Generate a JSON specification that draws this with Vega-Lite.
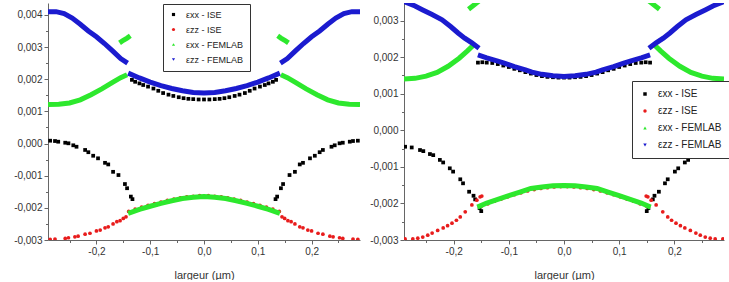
{
  "$schema": "https://vega.github.io/schema/vega-lite/v6.json",
  "padding": {"left": 4, "top": 3, "right": 0, "bottom": 0},
  "spacing": 0,
  "config": {
    "view": {"stroke": null},
    "font": "Liberation Sans",
    "axis": {"labelFont": "Liberation Sans", "labelFontSize": 10, "labelColor": "#333", "titleFont": "Liberation Sans", "titleFontSize": 11, "titleFontWeight": "normal", "titleColor": "#333", "domainColor": "#666", "tickColor": "#666", "grid": false, "labelPadding": 2, "labelFlush": false, "labelOverlap": false},
    "legend": {"labelFont": "Liberation Sans", "labelColor": "#222"}
  },
  "resolve": {"scale": {"color": "independent", "shape": "independent", "x": "independent", "y": "independent"}, "legend": {"color": "independent", "shape": "independent"}},
  "hconcat": [
    {
      "width": 312, "height": 237,
      "data": {"values": [
        {"s":"εxx - ISE","x":-0.286,"y":0.000088},{"s":"εxx - ISE","x":-0.277,"y":0.000078},{"s":"εxx - ISE","x":-0.271,"y":0.000057},{"s":"εxx - ISE","x":-0.258,"y":0.000025},{"s":"εxx - ISE","x":-0.252,"y":0.000007},{"s":"εxx - ISE","x":-0.243,"y":-0.000055},{"s":"εxx - ISE","x":-0.237,"y":-0.0001},{"s":"εxx - ISE","x":-0.221,"y":-0.0002},{"s":"εxx - ISE","x":-0.215,"y":-0.00027},{"s":"εxx - ISE","x":-0.206,"y":-0.00038},{"s":"εxx - ISE","x":-0.197,"y":-0.00046},{"s":"εxx - ISE","x":-0.184,"y":-0.0006},{"s":"εxx - ISE","x":-0.178,"y":-0.00065},{"s":"εxx - ISE","x":-0.169,"y":-0.00088},{"s":"εxx - ISE","x":-0.159,"y":-0.00098},{"s":"εxx - ISE","x":-0.147,"y":-0.00126},{"s":"εxx - ISE","x":-0.143,"y":-0.00139},{"s":"εxx - ISE","x":-0.136,"y":-0.00165},{"s":"εxx - ISE","x":-0.133,"y":-0.00173},
        {"s":"εxx - ISE","x":0.286,"y":0.000088},{"s":"εxx - ISE","x":0.277,"y":0.000078},{"s":"εxx - ISE","x":0.271,"y":0.000057},{"s":"εxx - ISE","x":0.258,"y":0.000025},{"s":"εxx - ISE","x":0.252,"y":0.000007},{"s":"εxx - ISE","x":0.243,"y":-0.000055},{"s":"εxx - ISE","x":0.237,"y":-0.0001},{"s":"εxx - ISE","x":0.221,"y":-0.0002},{"s":"εxx - ISE","x":0.215,"y":-0.00027},{"s":"εxx - ISE","x":0.206,"y":-0.00038},{"s":"εxx - ISE","x":0.197,"y":-0.00046},{"s":"εxx - ISE","x":0.184,"y":-0.0006},{"s":"εxx - ISE","x":0.178,"y":-0.00065},{"s":"εxx - ISE","x":0.169,"y":-0.00088},{"s":"εxx - ISE","x":0.159,"y":-0.00098},{"s":"εxx - ISE","x":0.147,"y":-0.00126},{"s":"εxx - ISE","x":0.143,"y":-0.00139},{"s":"εxx - ISE","x":0.136,"y":-0.00165},{"s":"εxx - ISE","x":0.133,"y":-0.00173},
        {"s":"εxx - ISE","x":-0.134,"y":0.00198},{"s":"εxx - ISE","x":-0.128,"y":0.00192},{"s":"εxx - ISE","x":-0.12,"y":0.00187},{"s":"εxx - ISE","x":-0.113,"y":0.00182},{"s":"εxx - ISE","x":-0.104,"y":0.00177},{"s":"εxx - ISE","x":-0.094,"y":0.00171},{"s":"εxx - ISE","x":-0.085,"y":0.00164},{"s":"εxx - ISE","x":-0.076,"y":0.00157},{"s":"εxx - ISE","x":-0.066,"y":0.00152},{"s":"εxx - ISE","x":-0.057,"y":0.00148},{"s":"εxx - ISE","x":-0.047,"y":0.00144},{"s":"εxx - ISE","x":-0.038,"y":0.00141},{"s":"εxx - ISE","x":-0.029,"y":0.00139},{"s":"εxx - ISE","x":-0.02,"y":0.00138},{"s":"εxx - ISE","x":-0.01,"y":0.00137},{"s":"εxx - ISE","x":0,"y":0.00137},
        {"s":"εxx - ISE","x":0.134,"y":0.00198},{"s":"εxx - ISE","x":0.128,"y":0.00192},{"s":"εxx - ISE","x":0.12,"y":0.00187},{"s":"εxx - ISE","x":0.113,"y":0.00182},{"s":"εxx - ISE","x":0.104,"y":0.00177},{"s":"εxx - ISE","x":0.094,"y":0.00171},{"s":"εxx - ISE","x":0.085,"y":0.00164},{"s":"εxx - ISE","x":0.076,"y":0.00157},{"s":"εxx - ISE","x":0.066,"y":0.00152},{"s":"εxx - ISE","x":0.057,"y":0.00148},{"s":"εxx - ISE","x":0.047,"y":0.00144},{"s":"εxx - ISE","x":0.038,"y":0.00141},{"s":"εxx - ISE","x":0.029,"y":0.00139},{"s":"εxx - ISE","x":0.02,"y":0.00138},{"s":"εxx - ISE","x":0.01,"y":0.00137},
        {"s":"εzz - ISE","x":-0.286,"y":-0.00298},{"s":"εzz - ISE","x":-0.277,"y":-0.00297},{"s":"εzz - ISE","x":-0.258,"y":-0.00295},{"s":"εzz - ISE","x":-0.252,"y":-0.00293},{"s":"εzz - ISE","x":-0.24,"y":-0.0029},{"s":"εzz - ISE","x":-0.234,"y":-0.00288},{"s":"εzz - ISE","x":-0.221,"y":-0.00282},{"s":"εzz - ISE","x":-0.212,"y":-0.00279},{"s":"εzz - ISE","x":-0.2,"y":-0.00272},{"s":"εzz - ISE","x":-0.193,"y":-0.00269},{"s":"εzz - ISE","x":-0.184,"y":-0.00262},{"s":"εzz - ISE","x":-0.178,"y":-0.00259},{"s":"εzz - ISE","x":-0.169,"y":-0.0025},{"s":"εzz - ISE","x":-0.162,"y":-0.00243},{"s":"εzz - ISE","x":-0.156,"y":-0.0024},{"s":"εzz - ISE","x":-0.15,"y":-0.00233},{"s":"εzz - ISE","x":-0.145,"y":-0.00228},
        {"s":"εzz - ISE","x":0.286,"y":-0.00298},{"s":"εzz - ISE","x":0.277,"y":-0.00297},{"s":"εzz - ISE","x":0.258,"y":-0.00295},{"s":"εzz - ISE","x":0.252,"y":-0.00293},{"s":"εzz - ISE","x":0.24,"y":-0.0029},{"s":"εzz - ISE","x":0.234,"y":-0.00288},{"s":"εzz - ISE","x":0.221,"y":-0.00282},{"s":"εzz - ISE","x":0.212,"y":-0.00279},{"s":"εzz - ISE","x":0.2,"y":-0.00272},{"s":"εzz - ISE","x":0.193,"y":-0.00269},{"s":"εzz - ISE","x":0.184,"y":-0.00262},{"s":"εzz - ISE","x":0.178,"y":-0.00259},{"s":"εzz - ISE","x":0.169,"y":-0.0025},{"s":"εzz - ISE","x":0.162,"y":-0.00243},{"s":"εzz - ISE","x":0.156,"y":-0.0024},{"s":"εzz - ISE","x":0.15,"y":-0.00233},{"s":"εzz - ISE","x":0.145,"y":-0.00228},
        {"s":"εzz - ISE","x":-0.14,"y":-0.00211},{"s":"εzz - ISE","x":-0.128,"y":-0.00204},{"s":"εzz - ISE","x":-0.116,"y":-0.00198},{"s":"εzz - ISE","x":-0.104,"y":-0.00192},{"s":"εzz - ISE","x":-0.092,"y":-0.00187},{"s":"εzz - ISE","x":-0.08,"y":-0.00182},{"s":"εzz - ISE","x":-0.068,"y":-0.00177},{"s":"εzz - ISE","x":-0.056,"y":-0.00173},{"s":"εzz - ISE","x":-0.044,"y":-0.00169},{"s":"εzz - ISE","x":-0.032,"y":-0.00166},{"s":"εzz - ISE","x":-0.02,"y":-0.00164},{"s":"εzz - ISE","x":-0.008,"y":-0.00162},
        {"s":"εzz - ISE","x":0.14,"y":-0.00211},{"s":"εzz - ISE","x":0.128,"y":-0.00204},{"s":"εzz - ISE","x":0.116,"y":-0.00198},{"s":"εzz - ISE","x":0.104,"y":-0.00192},{"s":"εzz - ISE","x":0.092,"y":-0.00187},{"s":"εzz - ISE","x":0.08,"y":-0.00182},{"s":"εzz - ISE","x":0.068,"y":-0.00177},{"s":"εzz - ISE","x":0.056,"y":-0.00173},{"s":"εzz - ISE","x":0.044,"y":-0.00169},{"s":"εzz - ISE","x":0.032,"y":-0.00166},{"s":"εzz - ISE","x":0.02,"y":-0.00164},{"s":"εzz - ISE","x":0.008,"y":-0.00162},
        {"s":"εxx - FEMLAB","g":"oL","x":-0.29,"y":0.00121},{"s":"εxx - FEMLAB","g":"oL","x":-0.27,"y":0.00122},{"s":"εxx - FEMLAB","g":"oL","x":-0.25,"y":0.00126},{"s":"εxx - FEMLAB","g":"oL","x":-0.23,"y":0.00136},{"s":"εxx - FEMLAB","g":"oL","x":-0.21,"y":0.00152},{"s":"εxx - FEMLAB","g":"oL","x":-0.19,"y":0.0017},{"s":"εxx - FEMLAB","g":"oL","x":-0.17,"y":0.0019},{"s":"εxx - FEMLAB","g":"oL","x":-0.155,"y":0.00205},{"s":"εxx - FEMLAB","g":"oL","x":-0.143,"y":0.00214},
        {"s":"εxx - FEMLAB","g":"oR","x":0.29,"y":0.00121},{"s":"εxx - FEMLAB","g":"oR","x":0.27,"y":0.00122},{"s":"εxx - FEMLAB","g":"oR","x":0.25,"y":0.00126},{"s":"εxx - FEMLAB","g":"oR","x":0.23,"y":0.00136},{"s":"εxx - FEMLAB","g":"oR","x":0.21,"y":0.00152},{"s":"εxx - FEMLAB","g":"oR","x":0.19,"y":0.0017},{"s":"εxx - FEMLAB","g":"oR","x":0.17,"y":0.0019},{"s":"εxx - FEMLAB","g":"oR","x":0.155,"y":0.00205},{"s":"εxx - FEMLAB","g":"oR","x":0.143,"y":0.00214},
        {"s":"εxx - FEMLAB","g":"sL","x":-0.157,"y":0.00313},{"s":"εxx - FEMLAB","g":"sL","x":-0.15,"y":0.00321},{"s":"εxx - FEMLAB","g":"sL","x":-0.143,"y":0.00328},{"s":"εxx - FEMLAB","g":"sL","x":-0.137,"y":0.00335},
        {"s":"εxx - FEMLAB","g":"sR","x":0.157,"y":0.00313},{"s":"εxx - FEMLAB","g":"sR","x":0.15,"y":0.00321},{"s":"εxx - FEMLAB","g":"sR","x":0.143,"y":0.00328},{"s":"εxx - FEMLAB","g":"sR","x":0.137,"y":0.00335},
        {"s":"εxx - FEMLAB","g":"i","x":-0.141,"y":-0.00217},{"s":"εxx - FEMLAB","g":"i","x":-0.12,"y":-0.00205},{"s":"εxx - FEMLAB","g":"i","x":-0.1,"y":-0.00195},{"s":"εxx - FEMLAB","g":"i","x":-0.08,"y":-0.00186},{"s":"εxx - FEMLAB","g":"i","x":-0.06,"y":-0.00178},{"s":"εxx - FEMLAB","g":"i","x":-0.04,"y":-0.00171},{"s":"εxx - FEMLAB","g":"i","x":-0.02,"y":-0.00167},{"s":"εxx - FEMLAB","g":"i","x":0,"y":-0.00165},{"s":"εxx - FEMLAB","g":"i","x":0.02,"y":-0.00167},{"s":"εxx - FEMLAB","g":"i","x":0.04,"y":-0.00171},{"s":"εxx - FEMLAB","g":"i","x":0.06,"y":-0.00178},{"s":"εxx - FEMLAB","g":"i","x":0.08,"y":-0.00186},{"s":"εxx - FEMLAB","g":"i","x":0.1,"y":-0.00195},{"s":"εxx - FEMLAB","g":"i","x":0.12,"y":-0.00205},{"s":"εxx - FEMLAB","g":"i","x":0.141,"y":-0.00217},
        {"s":"εzz - FEMLAB","g":"oL","x":-0.29,"y":0.0041},{"s":"εzz - FEMLAB","g":"oL","x":-0.275,"y":0.0041},{"s":"εzz - FEMLAB","g":"oL","x":-0.26,"y":0.00404},{"s":"εzz - FEMLAB","g":"oL","x":-0.245,"y":0.0039},{"s":"εzz - FEMLAB","g":"oL","x":-0.23,"y":0.00371},{"s":"εzz - FEMLAB","g":"oL","x":-0.215,"y":0.0035},{"s":"εzz - FEMLAB","g":"oL","x":-0.2,"y":0.00332},{"s":"εzz - FEMLAB","g":"oL","x":-0.185,"y":0.00311},{"s":"εzz - FEMLAB","g":"oL","x":-0.17,"y":0.00288},{"s":"εzz - FEMLAB","g":"oL","x":-0.155,"y":0.00264},{"s":"εzz - FEMLAB","g":"oL","x":-0.142,"y":0.0025},
        {"s":"εzz - FEMLAB","g":"oR","x":0.29,"y":0.0041},{"s":"εzz - FEMLAB","g":"oR","x":0.275,"y":0.0041},{"s":"εzz - FEMLAB","g":"oR","x":0.26,"y":0.00404},{"s":"εzz - FEMLAB","g":"oR","x":0.245,"y":0.0039},{"s":"εzz - FEMLAB","g":"oR","x":0.23,"y":0.00371},{"s":"εzz - FEMLAB","g":"oR","x":0.215,"y":0.0035},{"s":"εzz - FEMLAB","g":"oR","x":0.2,"y":0.00332},{"s":"εzz - FEMLAB","g":"oR","x":0.185,"y":0.00311},{"s":"εzz - FEMLAB","g":"oR","x":0.17,"y":0.00288},{"s":"εzz - FEMLAB","g":"oR","x":0.155,"y":0.00264},{"s":"εzz - FEMLAB","g":"oR","x":0.142,"y":0.0025},
        {"s":"εzz - FEMLAB","g":"i","x":-0.141,"y":0.00219},{"s":"εzz - FEMLAB","g":"i","x":-0.12,"y":0.00204},{"s":"εzz - FEMLAB","g":"i","x":-0.1,"y":0.00191},{"s":"εzz - FEMLAB","g":"i","x":-0.08,"y":0.0018},{"s":"εzz - FEMLAB","g":"i","x":-0.06,"y":0.00171},{"s":"εzz - FEMLAB","g":"i","x":-0.04,"y":0.00164},{"s":"εzz - FEMLAB","g":"i","x":-0.02,"y":0.00159},{"s":"εzz - FEMLAB","g":"i","x":0,"y":0.00157},{"s":"εzz - FEMLAB","g":"i","x":0.02,"y":0.00159},{"s":"εzz - FEMLAB","g":"i","x":0.04,"y":0.00164},{"s":"εzz - FEMLAB","g":"i","x":0.06,"y":0.00171},{"s":"εzz - FEMLAB","g":"i","x":0.08,"y":0.0018},{"s":"εzz - FEMLAB","g":"i","x":0.1,"y":0.00191},{"s":"εzz - FEMLAB","g":"i","x":0.12,"y":0.00204},{"s":"εzz - FEMLAB","g":"i","x":0.141,"y":0.00219}
      ]},
      "encoding": {
        "x": {"field": "x", "type": "quantitative", "scale": {"domain": [-0.29, 0.29], "nice": false, "zero": false},
              "axis": {"title": "largeur (µm)", "titlePadding": 13, "values": [-0.25,-0.2,-0.15,-0.1,-0.05,0,0.05,0.1,0.15,0.2,0.25],
                       "labelExpr": "abs(datum.value*10 - round(datum.value*10)) < 0.01 ? (datum.value < -0.001 ? '-' : '') + replace(format(abs(datum.value), '.1f'), '.', ',') : ''",
                       "tickSize": {"condition": {"test": "abs(datum.value*10 - round(datum.value*10)) < 0.01", "value": 4}, "value": 2.5}}},
        "y": {"field": "y", "type": "quantitative", "scale": {"domain": [-0.003, 0.00437], "nice": false, "zero": false},
              "axis": {"title": null, "minExtent": 44, "maxExtent": 44, "values": [-0.003,-0.0025,-0.002,-0.0015,-0.001,-0.0005,0,0.0005,0.001,0.0015,0.002,0.0025,0.003,0.0035,0.004],
                       "labelExpr": "abs(datum.value*1000 - round(datum.value*1000)) < 0.01 ? (datum.value < -0.00001 ? '-' : '') + replace(format(abs(datum.value), '.3f'), '.', ',') : ''",
                       "tickSize": {"condition": {"test": "abs(datum.value*1000 - round(datum.value*1000)) < 0.01", "value": 4}, "value": 2.5}}}
      },
      "layer": [
        {"transform": [{"filter": "indexof(datum.s, 'ISE') >= 0"}],
         "mark": {"type": "point", "filled": true, "size": 14, "opacity": 1, "clip": true, "strokeWidth": 0},
         "encoding": {
           "color": {"field": "s", "type": "nominal", "scale": {"domain": ["εxx - ISE","εzz - ISE","εxx - FEMLAB","εzz - FEMLAB"], "range": ["#000000","#e81c1c","#2de82d","#1b1bcf"]},
                     "legend": {"title": null, "orient": "none", "legendX": 115, "legendY": 1, "fillColor": "#ffffff", "strokeColor": "#333333", "padding": 6, "rowPadding": 5, "labelFontSize": 9, "symbolSize": 10, "labelOffset": 8, "symbolStrokeWidth": 0}},
           "shape": {"field": "s", "type": "nominal", "scale": {"domain": ["εxx - ISE","εzz - ISE","εxx - FEMLAB","εzz - FEMLAB"], "range": ["square","circle","triangle-up","triangle-down"]},
                     "legend": {"title": null, "orient": "none", "legendX": 115, "legendY": 1, "fillColor": "#ffffff", "strokeColor": "#333333", "padding": 6, "rowPadding": 5, "labelFontSize": 9, "symbolSize": 10, "labelOffset": 8, "symbolStrokeWidth": 0}}
         }},
        {"transform": [{"filter": "datum.s == 'εxx - FEMLAB'"}],
         "mark": {"type": "line", "color": "#2de82d", "strokeWidth": 5, "clip": true},
         "encoding": {"detail": {"field": "g", "type": "nominal"}}},
        {"transform": [{"filter": "datum.s == 'εzz - FEMLAB'"}],
         "mark": {"type": "line", "color": "#1b1bcf", "strokeWidth": 5, "clip": true},
         "encoding": {"detail": {"field": "g", "type": "nominal"}}}
      ]
    },
    {
      "width": 320, "height": 237,
      "data": {"values": [
        {"s":"εxx - ISE","x":-0.288,"y":-0.00045},{"s":"εxx - ISE","x":-0.276,"y":-0.00047},{"s":"εxx - ISE","x":-0.261,"y":-0.00054},{"s":"εxx - ISE","x":-0.255,"y":-0.00057},{"s":"εxx - ISE","x":-0.243,"y":-0.00065},{"s":"εxx - ISE","x":-0.237,"y":-0.00068},{"s":"εxx - ISE","x":-0.225,"y":-0.00081},{"s":"εxx - ISE","x":-0.219,"y":-0.00088},{"s":"εxx - ISE","x":-0.207,"y":-0.00104},{"s":"εxx - ISE","x":-0.201,"y":-0.00113},{"s":"εxx - ISE","x":-0.188,"y":-0.00134},{"s":"εxx - ISE","x":-0.183,"y":-0.00145},{"s":"εxx - ISE","x":-0.172,"y":-0.00168},{"s":"εxx - ISE","x":-0.164,"y":-0.00179},{"s":"εxx - ISE","x":-0.161,"y":-0.00189},{"s":"εxx - ISE","x":-0.153,"y":-0.00213},{"s":"εxx - ISE","x":-0.15,"y":-0.00221},
        {"s":"εxx - ISE","x":0.288,"y":-0.00045},{"s":"εxx - ISE","x":0.276,"y":-0.00047},{"s":"εxx - ISE","x":0.261,"y":-0.00054},{"s":"εxx - ISE","x":0.255,"y":-0.00057},{"s":"εxx - ISE","x":0.243,"y":-0.00065},{"s":"εxx - ISE","x":0.237,"y":-0.00068},{"s":"εxx - ISE","x":0.225,"y":-0.00081},{"s":"εxx - ISE","x":0.219,"y":-0.00088},{"s":"εxx - ISE","x":0.207,"y":-0.00104},{"s":"εxx - ISE","x":0.201,"y":-0.00113},{"s":"εxx - ISE","x":0.188,"y":-0.00134},{"s":"εxx - ISE","x":0.183,"y":-0.00145},{"s":"εxx - ISE","x":0.172,"y":-0.00168},{"s":"εxx - ISE","x":0.164,"y":-0.00179},{"s":"εxx - ISE","x":0.161,"y":-0.00189},{"s":"εxx - ISE","x":0.153,"y":-0.00213},{"s":"εxx - ISE","x":0.15,"y":-0.00221},
        {"s":"εxx - ISE","x":-0.156,"y":0.00185},{"s":"εxx - ISE","x":-0.148,"y":0.00186},{"s":"εxx - ISE","x":-0.14,"y":0.00185},{"s":"εxx - ISE","x":-0.13,"y":0.00184},{"s":"εxx - ISE","x":-0.12,"y":0.00181},{"s":"εxx - ISE","x":-0.11,"y":0.00177},{"s":"εxx - ISE","x":-0.1,"y":0.00173},{"s":"εxx - ISE","x":-0.09,"y":0.00168},{"s":"εxx - ISE","x":-0.08,"y":0.00164},{"s":"εxx - ISE","x":-0.07,"y":0.00159},{"s":"εxx - ISE","x":-0.06,"y":0.00155},{"s":"εxx - ISE","x":-0.05,"y":0.00151},{"s":"εxx - ISE","x":-0.04,"y":0.00148},{"s":"εxx - ISE","x":-0.03,"y":0.00146},{"s":"εxx - ISE","x":-0.02,"y":0.00145},{"s":"εxx - ISE","x":-0.01,"y":0.00144},{"s":"εxx - ISE","x":0,"y":0.00144},
        {"s":"εxx - ISE","x":0.156,"y":0.00185},{"s":"εxx - ISE","x":0.148,"y":0.00186},{"s":"εxx - ISE","x":0.14,"y":0.00185},{"s":"εxx - ISE","x":0.13,"y":0.00184},{"s":"εxx - ISE","x":0.12,"y":0.00181},{"s":"εxx - ISE","x":0.11,"y":0.00177},{"s":"εxx - ISE","x":0.1,"y":0.00173},{"s":"εxx - ISE","x":0.09,"y":0.00168},{"s":"εxx - ISE","x":0.08,"y":0.00164},{"s":"εxx - ISE","x":0.07,"y":0.00159},{"s":"εxx - ISE","x":0.06,"y":0.00155},{"s":"εxx - ISE","x":0.05,"y":0.00151},{"s":"εxx - ISE","x":0.04,"y":0.00148},{"s":"εxx - ISE","x":0.03,"y":0.00146},{"s":"εxx - ISE","x":0.02,"y":0.00145},{"s":"εxx - ISE","x":0.01,"y":0.00144},
        {"s":"εzz - ISE","x":-0.288,"y":-0.00297},{"s":"εzz - ISE","x":-0.274,"y":-0.00297},{"s":"εzz - ISE","x":-0.265,"y":-0.00295},{"s":"εzz - ISE","x":-0.256,"y":-0.00292},{"s":"εzz - ISE","x":-0.247,"y":-0.00287},{"s":"εzz - ISE","x":-0.239,"y":-0.00281},{"s":"εzz - ISE","x":-0.229,"y":-0.00274},{"s":"εzz - ISE","x":-0.219,"y":-0.00267},{"s":"εzz - ISE","x":-0.211,"y":-0.00261},{"s":"εzz - ISE","x":-0.203,"y":-0.00254},{"s":"εzz - ISE","x":-0.195,"y":-0.00246},{"s":"εzz - ISE","x":-0.188,"y":-0.00237},{"s":"εzz - ISE","x":-0.179,"y":-0.00223},{"s":"εzz - ISE","x":-0.167,"y":-0.00204},{"s":"εzz - ISE","x":-0.158,"y":-0.00191},{"s":"εzz - ISE","x":-0.152,"y":-0.00182},{"s":"εzz - ISE","x":-0.149,"y":-0.0018},
        {"s":"εzz - ISE","x":0.288,"y":-0.00297},{"s":"εzz - ISE","x":0.274,"y":-0.00297},{"s":"εzz - ISE","x":0.265,"y":-0.00295},{"s":"εzz - ISE","x":0.256,"y":-0.00292},{"s":"εzz - ISE","x":0.247,"y":-0.00287},{"s":"εzz - ISE","x":0.239,"y":-0.00281},{"s":"εzz - ISE","x":0.229,"y":-0.00274},{"s":"εzz - ISE","x":0.219,"y":-0.00267},{"s":"εzz - ISE","x":0.211,"y":-0.00261},{"s":"εzz - ISE","x":0.203,"y":-0.00254},{"s":"εzz - ISE","x":0.195,"y":-0.00246},{"s":"εzz - ISE","x":0.188,"y":-0.00237},{"s":"εzz - ISE","x":0.179,"y":-0.00223},{"s":"εzz - ISE","x":0.167,"y":-0.00204},{"s":"εzz - ISE","x":0.158,"y":-0.00191},{"s":"εzz - ISE","x":0.152,"y":-0.00182},{"s":"εzz - ISE","x":0.149,"y":-0.0018},
        {"s":"εzz - ISE","x":-0.15,"y":-0.00208},{"s":"εzz - ISE","x":-0.138,"y":-0.00201},{"s":"εzz - ISE","x":-0.126,"y":-0.00194},{"s":"εzz - ISE","x":-0.114,"y":-0.00188},{"s":"εzz - ISE","x":-0.102,"y":-0.00182},{"s":"εzz - ISE","x":-0.09,"y":-0.00176},{"s":"εzz - ISE","x":-0.078,"y":-0.00171},{"s":"εzz - ISE","x":-0.066,"y":-0.00166},{"s":"εzz - ISE","x":-0.054,"y":-0.00162},{"s":"εzz - ISE","x":-0.042,"y":-0.00159},{"s":"εzz - ISE","x":-0.03,"y":-0.00157},{"s":"εzz - ISE","x":-0.018,"y":-0.00155},{"s":"εzz - ISE","x":-0.006,"y":-0.00154},
        {"s":"εzz - ISE","x":0.15,"y":-0.00208},{"s":"εzz - ISE","x":0.138,"y":-0.00201},{"s":"εzz - ISE","x":0.126,"y":-0.00194},{"s":"εzz - ISE","x":0.114,"y":-0.00188},{"s":"εzz - ISE","x":0.102,"y":-0.00182},{"s":"εzz - ISE","x":0.09,"y":-0.00176},{"s":"εzz - ISE","x":0.078,"y":-0.00171},{"s":"εzz - ISE","x":0.066,"y":-0.00166},{"s":"εzz - ISE","x":0.054,"y":-0.00162},{"s":"εzz - ISE","x":0.042,"y":-0.00159},{"s":"εzz - ISE","x":0.03,"y":-0.00157},{"s":"εzz - ISE","x":0.018,"y":-0.00155},{"s":"εzz - ISE","x":0.006,"y":-0.00154},
        {"s":"εxx - FEMLAB","g":"oL","x":-0.29,"y":0.0014},{"s":"εxx - FEMLAB","g":"oL","x":-0.27,"y":0.00142},{"s":"εxx - FEMLAB","g":"oL","x":-0.25,"y":0.00148},{"s":"εxx - FEMLAB","g":"oL","x":-0.23,"y":0.00158},{"s":"εxx - FEMLAB","g":"oL","x":-0.21,"y":0.00175},{"s":"εxx - FEMLAB","g":"oL","x":-0.19,"y":0.00197},{"s":"εxx - FEMLAB","g":"oL","x":-0.175,"y":0.00217},{"s":"εxx - FEMLAB","g":"oL","x":-0.162,"y":0.00236},
        {"s":"εxx - FEMLAB","g":"oR","x":0.29,"y":0.0014},{"s":"εxx - FEMLAB","g":"oR","x":0.27,"y":0.00142},{"s":"εxx - FEMLAB","g":"oR","x":0.25,"y":0.00148},{"s":"εxx - FEMLAB","g":"oR","x":0.23,"y":0.00158},{"s":"εxx - FEMLAB","g":"oR","x":0.21,"y":0.00175},{"s":"εxx - FEMLAB","g":"oR","x":0.19,"y":0.00197},{"s":"εxx - FEMLAB","g":"oR","x":0.175,"y":0.00217},{"s":"εxx - FEMLAB","g":"oR","x":0.162,"y":0.00236},
        {"s":"εxx - FEMLAB","g":"sL","x":-0.173,"y":0.00331},{"s":"εxx - FEMLAB","g":"sL","x":-0.161,"y":0.00345},{"s":"εxx - FEMLAB","g":"sL","x":-0.152,"y":0.00356},
        {"s":"εxx - FEMLAB","g":"sR","x":0.173,"y":0.00331},{"s":"εxx - FEMLAB","g":"sR","x":0.161,"y":0.00345},{"s":"εxx - FEMLAB","g":"sR","x":0.152,"y":0.00356},
        {"s":"εxx - FEMLAB","g":"i","x":-0.157,"y":-0.0021},{"s":"εxx - FEMLAB","g":"i","x":-0.14,"y":-0.00199},{"s":"εxx - FEMLAB","g":"i","x":-0.12,"y":-0.00189},{"s":"εxx - FEMLAB","g":"i","x":-0.1,"y":-0.00179},{"s":"εxx - FEMLAB","g":"i","x":-0.08,"y":-0.00169},{"s":"εxx - FEMLAB","g":"i","x":-0.06,"y":-0.00159},{"s":"εxx - FEMLAB","g":"i","x":-0.04,"y":-0.00155},{"s":"εxx - FEMLAB","g":"i","x":-0.02,"y":-0.00152},{"s":"εxx - FEMLAB","g":"i","x":0,"y":-0.00151},{"s":"εxx - FEMLAB","g":"i","x":0.02,"y":-0.00152},{"s":"εxx - FEMLAB","g":"i","x":0.04,"y":-0.00155},{"s":"εxx - FEMLAB","g":"i","x":0.06,"y":-0.00159},{"s":"εxx - FEMLAB","g":"i","x":0.08,"y":-0.00169},{"s":"εxx - FEMLAB","g":"i","x":0.1,"y":-0.00179},{"s":"εxx - FEMLAB","g":"i","x":0.12,"y":-0.00189},{"s":"εxx - FEMLAB","g":"i","x":0.14,"y":-0.00199},{"s":"εxx - FEMLAB","g":"i","x":0.157,"y":-0.0021},
        {"s":"εzz - FEMLAB","g":"oL","x":-0.29,"y":0.00352},{"s":"εzz - FEMLAB","g":"oL","x":-0.27,"y":0.0034},{"s":"εzz - FEMLAB","g":"oL","x":-0.256,"y":0.00329},{"s":"εzz - FEMLAB","g":"oL","x":-0.24,"y":0.00317},{"s":"εzz - FEMLAB","g":"oL","x":-0.221,"y":0.00302},{"s":"εzz - FEMLAB","g":"oL","x":-0.205,"y":0.00283},{"s":"εzz - FEMLAB","g":"oL","x":-0.192,"y":0.00266},{"s":"εzz - FEMLAB","g":"oL","x":-0.18,"y":0.00252},{"s":"εzz - FEMLAB","g":"oL","x":-0.167,"y":0.00239},{"s":"εzz - FEMLAB","g":"oL","x":-0.154,"y":0.00224},
        {"s":"εzz - FEMLAB","g":"oR","x":0.29,"y":0.00352},{"s":"εzz - FEMLAB","g":"oR","x":0.27,"y":0.0034},{"s":"εzz - FEMLAB","g":"oR","x":0.256,"y":0.00329},{"s":"εzz - FEMLAB","g":"oR","x":0.24,"y":0.00317},{"s":"εzz - FEMLAB","g":"oR","x":0.221,"y":0.00302},{"s":"εzz - FEMLAB","g":"oR","x":0.205,"y":0.00283},{"s":"εzz - FEMLAB","g":"oR","x":0.192,"y":0.00266},{"s":"εzz - FEMLAB","g":"oR","x":0.18,"y":0.00252},{"s":"εzz - FEMLAB","g":"oR","x":0.167,"y":0.00239},{"s":"εzz - FEMLAB","g":"oR","x":0.154,"y":0.00224},
        {"s":"εzz - FEMLAB","g":"i","x":-0.156,"y":0.00206},{"s":"εzz - FEMLAB","g":"i","x":-0.14,"y":0.00198},{"s":"εzz - FEMLAB","g":"i","x":-0.12,"y":0.00189},{"s":"εzz - FEMLAB","g":"i","x":-0.107,"y":0.00183},{"s":"εzz - FEMLAB","g":"i","x":-0.09,"y":0.00174},{"s":"εzz - FEMLAB","g":"i","x":-0.07,"y":0.00165},{"s":"εzz - FEMLAB","g":"i","x":-0.058,"y":0.00159},{"s":"εzz - FEMLAB","g":"i","x":-0.04,"y":0.00153},{"s":"εzz - FEMLAB","g":"i","x":-0.02,"y":0.00149},{"s":"εzz - FEMLAB","g":"i","x":0,"y":0.00147},{"s":"εzz - FEMLAB","g":"i","x":0.02,"y":0.00149},{"s":"εzz - FEMLAB","g":"i","x":0.04,"y":0.00153},{"s":"εzz - FEMLAB","g":"i","x":0.058,"y":0.00159},{"s":"εzz - FEMLAB","g":"i","x":0.07,"y":0.00165},{"s":"εzz - FEMLAB","g":"i","x":0.09,"y":0.00174},{"s":"εzz - FEMLAB","g":"i","x":0.107,"y":0.00183},{"s":"εzz - FEMLAB","g":"i","x":0.12,"y":0.00189},{"s":"εzz - FEMLAB","g":"i","x":0.14,"y":0.00198},{"s":"εzz - FEMLAB","g":"i","x":0.156,"y":0.00206}
      ]},
      "encoding": {
        "x": {"field": "x", "type": "quantitative", "scale": {"domain": [-0.29, 0.29], "nice": false, "zero": false},
              "axis": {"title": "largeur (µm)", "titlePadding": 13, "values": [-0.25,-0.2,-0.15,-0.1,-0.05,0,0.05,0.1,0.15,0.2,0.25],
                       "labelExpr": "abs(datum.value*10 - round(datum.value*10)) < 0.01 ? (datum.value < -0.001 ? '-' : '') + replace(format(abs(datum.value), '.1f'), '.', ',') : ''",
                       "tickSize": {"condition": {"test": "abs(datum.value*10 - round(datum.value*10)) < 0.01", "value": 4}, "value": 2.5}}},
        "y": {"field": "y", "type": "quantitative", "scale": {"domain": [-0.003, 0.00348], "nice": false, "zero": false},
              "axis": {"title": null, "minExtent": 44, "maxExtent": 44, "values": [-0.003,-0.0025,-0.002,-0.0015,-0.001,-0.0005,0,0.0005,0.001,0.0015,0.002,0.0025,0.003],
                       "labelExpr": "abs(datum.value*1000 - round(datum.value*1000)) < 0.01 ? (datum.value < -0.00001 ? '-' : '') + replace(format(abs(datum.value), '.3f'), '.', ',') : ''",
                       "tickSize": {"condition": {"test": "abs(datum.value*1000 - round(datum.value*1000)) < 0.01", "value": 4}, "value": 2.5}}}
      },
      "layer": [
        {"transform": [{"filter": "indexof(datum.s, 'ISE') >= 0"}],
         "mark": {"type": "point", "filled": true, "size": 14, "opacity": 1, "clip": true, "strokeWidth": 0},
         "encoding": {
           "color": {"field": "s", "type": "nominal", "scale": {"domain": ["εxx - ISE","εzz - ISE","εxx - FEMLAB","εzz - FEMLAB"], "range": ["#000000","#e81c1c","#2de82d","#1b1bcf"]},
                     "legend": {"title": null, "orient": "none", "legendX": 228, "legendY": 78, "fillColor": "#ffffff", "strokeColor": "#333333", "padding": 8, "rowPadding": 7, "labelFontSize": 10, "symbolSize": 12, "labelOffset": 8, "symbolStrokeWidth": 0}},
           "shape": {"field": "s", "type": "nominal", "scale": {"domain": ["εxx - ISE","εzz - ISE","εxx - FEMLAB","εzz - FEMLAB"], "range": ["square","circle","triangle-up","triangle-down"]},
                     "legend": {"title": null, "orient": "none", "legendX": 228, "legendY": 78, "fillColor": "#ffffff", "strokeColor": "#333333", "padding": 8, "rowPadding": 7, "labelFontSize": 10, "symbolSize": 12, "labelOffset": 8, "symbolStrokeWidth": 0}}
         }},
        {"transform": [{"filter": "datum.s == 'εxx - FEMLAB'"}],
         "mark": {"type": "line", "color": "#2de82d", "strokeWidth": 5, "clip": true},
         "encoding": {"detail": {"field": "g", "type": "nominal"}}},
        {"transform": [{"filter": "datum.s == 'εzz - FEMLAB'"}],
         "mark": {"type": "line", "color": "#1b1bcf", "strokeWidth": 5, "clip": true},
         "encoding": {"detail": {"field": "g", "type": "nominal"}}}
      ]
    }
  ]
}
